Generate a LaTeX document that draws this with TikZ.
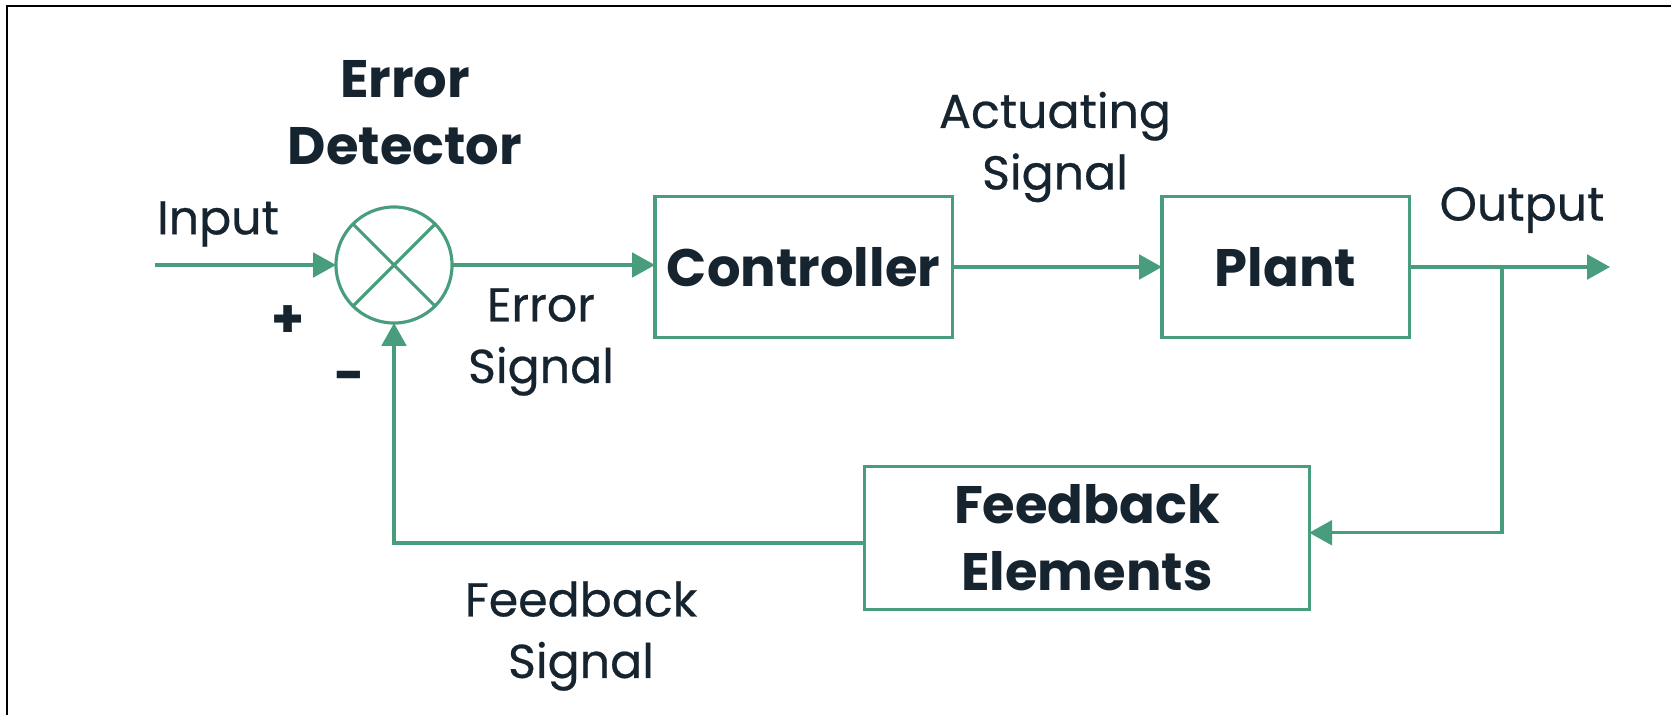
\documentclass[tikz,border=0pt]{standalone}
\usepackage{fontspec}
\setmainfont{Poppins}
\newfontfamily\medfont{Poppins}[FakeBold=0.5]
\usetikzlibrary{arrows.meta}
\definecolor{loopgreen}{RGB}{72,158,124}
\definecolor{inktext}{RGB}{22,36,48}

\begin{document}
\begin{tikzpicture}[x=0.01cm,y=-0.01cm,line width=0.9pt,
  sig/.style={draw=loopgreen,-{Triangle[length=6.5pt,width=7pt]}},
  blockbox/.style={draw=loopgreen,minimum height=1.41cm,inner sep=0pt,outer sep=0pt,
    font=\fontsize{15}{19}\selectfont\bfseries,text=inktext,align=center},
  sumnode/.style={circle,draw=loopgreen,minimum size=1.16cm,inner sep=0pt,outer sep=0pt},
  lbl/.style={font=\medfont\fontsize{13.5}{17.5}\selectfont,text=inktext,align=center},
  boldlbl/.style={font=\fontsize{15}{19}\selectfont\bfseries,text=inktext,align=center}]
  \useasboundingbox (0,0) rectangle (1671,715);
  \draw[line width=0.8pt] (7,715) -- (7,6) -- (1671,6);

  \node[sumnode] (sum) at (394,265) {};
  \draw[loopgreen] (sum.north west) -- (sum.south east);
  \draw[loopgreen] (sum.north east) -- (sum.south west);
  \node[blockbox,minimum width=2.97cm] (ctrl) at (803.5,267) {Controller};
  \node[blockbox,minimum width=2.47cm] (plant) at (1285.5,267) {Plant};
  \node[blockbox,minimum width=4.44cm,minimum height=1.43cm] (fb) at (1087,538) {Feedback\\Elements};

  \coordinate (in) at (155,265);
  \coordinate (out) at (1610,267);
  \coordinate (branch) at (1502,267);

  \draw[sig] (in) -- (sum.west);
  \draw[sig] (sum.east) -- (sum.east -| ctrl.west);
  \draw[sig] (ctrl.east) -- (plant.west);
  \draw[sig] (plant.east) -- (out);
  \draw[sig] (branch) |- ([yshift=1.5pt]fb.east);
  \draw[sig] ([yshift=-1.4pt]fb.west) -| (sum.south);

  \node[boldlbl] (detlbl) at (405,113) {Error\\Detector};
  \node[lbl] (inlbl) at (218,224) {Input};
  \node[boldlbl] (pluslbl) at (288,322) {+};
  \node[boldlbl] (minuslbl) at (350,382) {-};
  \node[lbl] (errlbl) at (541,342) {Error\\Signal};
  \node[lbl] (actlbl) at (1055,147) {Actuating\\Signal};
  \node[lbl] (outlbl) at (1522,210) {Output};
  \node[lbl] (fblbl) at (581,636) {Feedback\\Signal};
\end{tikzpicture}
\end{document}
